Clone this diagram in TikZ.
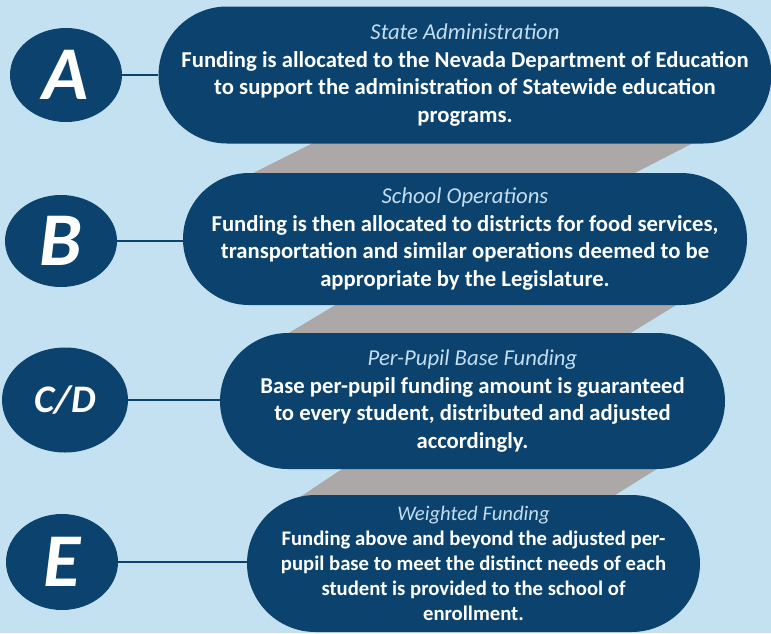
\documentclass[tikz,border=0pt]{standalone}
\usepackage{fontspec}
\setmainfont{Carlito}
\usetikzlibrary{shapes.geometric,shapes.misc}
\definecolor{navy}{HTML}{0B436E}
\definecolor{skyback}{HTML}{C3E1F1}
\definecolor{bandgray}{HTML}{ACA8A7}
\definecolor{headblue}{HTML}{C4DDF1}
\newcommand{\head}[1]{{\color{headblue}\mdseries\itshape #1}}
\begin{document}
\begin{tikzpicture}[x=1pt,y=-1pt,thick]
  \tikzstyle{letter}=[ellipse,fill=navy,text=white,inner sep=0pt,font=\bfseries\itshape\fontsize{76}{76}\selectfont]
  \tikzstyle{pill}=[rounded rectangle,fill=navy,text=white,align=center,inner sep=0pt,font=\bfseries\fontsize{22.7}{27.5}\selectfont]
  \tikzstyle{link}=[draw=navy,line width=2pt]
  \fill[skyback] (0,0) rectangle (771,633);
  \useasboundingbox (0,0) rectangle (771,633);
  % gray bands behind the boxes
  \fill[bandgray] (319,140) -- (699,140) -- (631,175) -- (249,175) -- cycle;
  \fill[bandgray] (337,304) -- (678,304) -- (629,334) -- (287,334) -- cycle;
  \fill[bandgray] (345,467) -- (660,467) -- (612,497) -- (300,497) -- cycle;
  % the four boxes
  \node[pill,minimum width=610pt,minimum height=137pt] (pA) at (465,75)
    {\head{State Administration}\\Funding is allocated to the Nevada Department of Education\\to support the administration of Statewide education\\programs.};
  \node[pill,minimum width=564pt,minimum height=132pt] (pB) at (465,239)
    {\head{School Operations}\\Funding is then allocated to districts for food services,\\transportation and similar operations deemed to be\\appropriate by the Legislature.};
  \node[pill,minimum width=505pt,minimum height=136pt] (pC) at (472.5,401)
    {\head{Per-Pupil Base Funding}\\Base per-pupil funding amount is guaranteed\\to every student, distributed and adjusted\\accordingly.};
  \node[pill,minimum width=453pt,minimum height=137pt,font=\bfseries\fontsize{20.7}{25}\selectfont] (pE) at (473.5,563.5)
    {\head{Weighted Funding}\\Funding above and beyond the adjusted per-\\pupil base to meet the distinct needs of each\\student is provided to the school of\\enrollment.};
  % letters
  \node[letter,minimum width=112pt,minimum height=94pt] (A) at (66,75) {A};
  \node[letter,minimum width=112pt,minimum height=92pt] (B) at (61,241) {B};
  \node[letter,minimum width=126pt,minimum height=105pt,font=\bfseries\itshape\fontsize{39}{39}\selectfont] (CD) at (65,400) {C/D};
  \node[letter,minimum width=112pt,minimum height=96pt] (E) at (62,562) {E};
  \draw[link] (A.east) -- (A.east -| pA.west);
  \draw[link] (B.east) -- (B.east -| pB.west);
  \draw[link] (CD.east) -- (CD.east -| pC.west);
  \draw[link] (E.east) -- (E.east -| pE.west);
\end{tikzpicture}
\end{document}
